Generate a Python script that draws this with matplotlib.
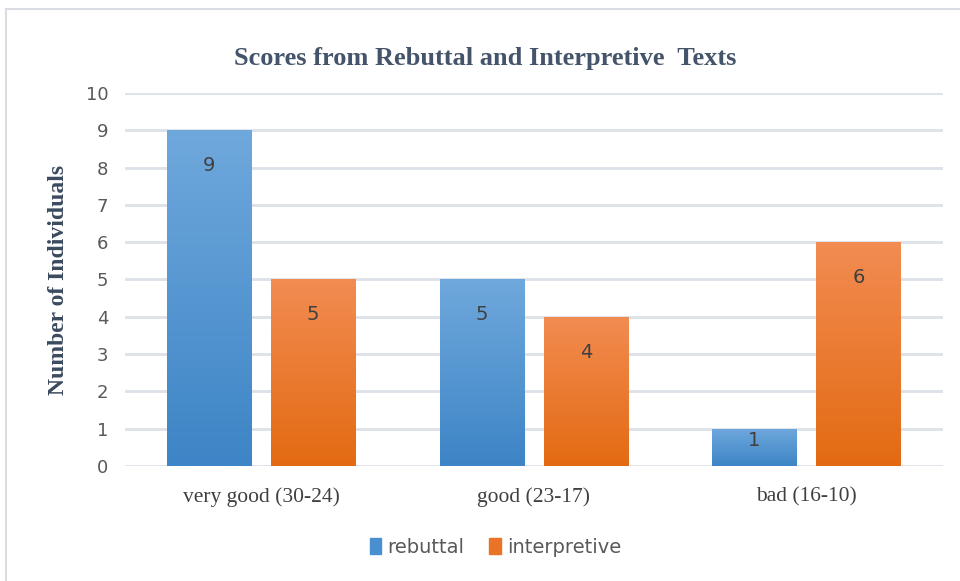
import numpy as np
import matplotlib.pyplot as plt
from matplotlib.colors import LinearSegmentedColormap
from matplotlib.patches import Rectangle

categories = ['very good (30-24)', 'good (23-17)', 'bad (16-10)']
rebuttal = [9, 5, 1]
interpretive = [5, 4, 6]
series_names = ['rebuttal', 'interpretive']

fig = plt.figure(figsize=(9.6, 5.81), dpi=100)
ax = fig.add_axes([0.130, 0.198, 0.852, 0.642])

# light frame round the chart
fig.patches.append(Rectangle((6 / 960, -0.05), 1.2, 1 - 9 / 581 + 0.05,
                             transform=fig.transFigure, fill=False,
                             edgecolor='#d9dde3', linewidth=1.5))

x = np.arange(len(categories))
width = 0.309
offset = 0.191

blue_cmap = LinearSegmentedColormap.from_list('b', ['#3d85c6', '#6fa8dc'])
orange_cmap = LinearSegmentedColormap.from_list('o', ['#e36a12', '#f28c52'])
grad = np.linspace(0, 1, 256).reshape(-1, 1)

bars1 = ax.bar(x - offset, rebuttal, width, color='#5b9bd5', label=series_names[0], zorder=2)
bars2 = ax.bar(x + offset, interpretive, width, color='#ed7d31', label=series_names[1], zorder=2)

# gradient fill on each bar
for bars, cmap in [(bars1, blue_cmap), (bars2, orange_cmap)]:
    for b in bars:
        x0, y0 = b.get_x(), b.get_y()
        w, h = b.get_width(), b.get_height()
        im = ax.imshow(grad, cmap=cmap, origin='lower', aspect='auto',
                       extent=[x0, x0 + w, y0, y0 + h], zorder=3)
        im.set_clip_path(b)

# labels inside the end of each bar
for bars, vals in [(bars1, rebuttal), (bars2, interpretive)]:
    for b, v in zip(bars, vals):
        drop = min(0.95, 0.32 * v)
        ax.text(b.get_x() + b.get_width() / 2, v - drop, str(v), ha='center', va='center',
                fontsize=14, color='#404040', family='DejaVu Sans', zorder=4)

ax.set_xlim(-0.5, len(categories) - 0.5)
ax.set_ylim(0, 10)
ax.set_yticks(range(0, 11))
ax.yaxis.grid(True, color='#dde1e8', linewidth=2)
ax.set_axisbelow(True)
for s in ax.spines.values():
    s.set_visible(False)
ax.tick_params(length=0)
ax.tick_params(axis='y', labelsize=13, labelcolor='#595959', pad=12)
ax.tick_params(axis='x', labelsize=15.5, labelcolor='#404040', pad=15)
ax.set_xticks(x)
ax.set_xticklabels(categories, family='Liberation Serif')

ax.set_ylabel('Number of Individuals', family='Liberation Serif', fontweight='bold',
              fontsize=17, color='#3b4a5e', labelpad=12)
fig.text(0.505, 0.900, 'Scores from Rebuttal and Interpretive  Texts', ha='center', va='center',
         family='Liberation Serif', fontweight='bold', fontsize=19, color='#44546a')

leg = fig.legend(handles=[Rectangle((0, 0), 1, 1, color='#4a8fd0'),
                          Rectangle((0, 0), 1, 1, color='#ea7325')],
                 labels=series_names, loc='center', bbox_to_anchor=(0.516, 0.058),
                 ncol=2, frameon=False, fontsize=14, handlelength=0.6, handleheight=0.9,
                 handletextpad=0.3, columnspacing=1.3)
for t in leg.get_texts():
    t.set_color('#595959')

fig.savefig('out.png', dpi=100)
